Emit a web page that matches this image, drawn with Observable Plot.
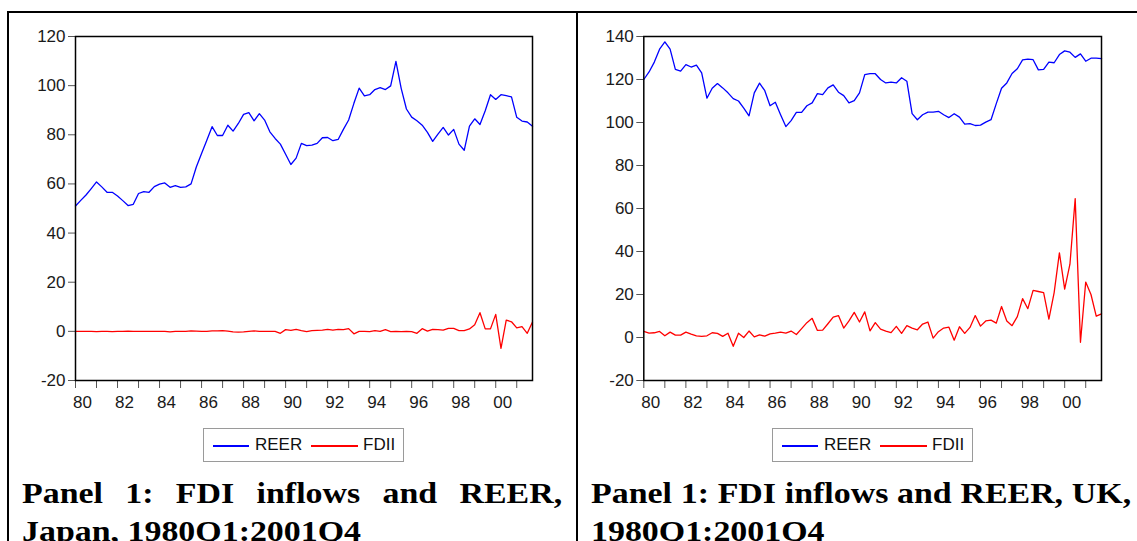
<!DOCTYPE html>
<html><head><meta charset="utf-8">
<script src="https://cdn.jsdelivr.net/npm/d3@7"></script>
<script src="https://cdn.jsdelivr.net/npm/@observablehq/plot@0.6"></script>
<style>
body{margin:0;background:#fff;width:1137px;height:541px;overflow:hidden;position:relative;font-family:"Liberation Sans",Arial,sans-serif;}
.chart{position:absolute;top:0;}
.rule{position:absolute;background:#000;z-index:5;}
.legend{position:absolute;top:428px;width:199px;height:32px;border:1px solid #9a9a9a;background:#fff;font-size:17px;color:#111;}
.legend .ln{position:absolute;top:16px;height:1.5px;}
.legend .tx{position:absolute;top:6px;line-height:20px;}
.caption{position:absolute;top:474px;width:478px;font-family:"Liberation Serif","Times New Roman",serif;font-weight:bold;font-size:30px;line-height:38px;text-align:justify;transform:scaleX(1.13);transform-origin:0 0;color:#000;}
</style></head><body>
<div id="left" class="chart" style="left:0px"></div>
<div id="right" class="chart" style="left:570px"></div>
<div class="rule" style="left:7px;top:11px;width:1130px;height:2px"></div>
<div class="rule" style="left:7px;top:11px;width:2px;height:530px"></div>
<div class="rule" style="left:576px;top:11px;width:2px;height:530px"></div>
<div id="legL" class="legend" style="left:203px"></div>
<div id="legR" class="legend" style="left:772px"></div>
<div class="caption" style="left:22px">Panel 1: FDI inflows and REER, Japan, 1980Q1:2001Q4</div>
<div class="caption" style="left:591px">Panel 1: FDI inflows and REER, UK, 1980Q1:2001Q4</div>
<script>
// Quarterly data 1980Q1 .. 2001Q4 (88 quarters)
const startYear = 1980;
const nQuarters = 88;
const seriesNames = ["REER", "FDII"];
const seriesColors = ["#0000ff", "#ff0000"];
const xTickYears = [1980,1981,1982,1983,1984,1985,1986,1987,1988,1989,1990,1991,1992,1993,1994,1995,1996,1997,1998,1999,2000,2001];
const xLabelYears = [1980,1982,1984,1986,1988,1990,1992,1994,1996,1998,2000];
const yTicksJapan = [-20,0,20,40,60,80,100,120];
const yTicksUK = [-20,0,20,40,60,80,100,120,140];

const japanREER = [51.0,53.3,55.5,58.1,60.8,58.8,56.6,56.6,55.1,53.2,
  51.2,51.7,56.1,56.9,56.6,58.9,59.9,60.4,58.6,59.3,
  58.6,58.8,60.0,66.9,72.4,77.8,83.3,79.7,79.7,83.9,
  81.5,84.6,88.3,89.0,85.7,88.6,86.0,81.2,78.5,76.2,
  72.1,67.9,70.5,76.5,75.6,75.8,76.5,78.8,78.9,77.6,
  78.1,82.2,86.0,92.8,99.0,95.8,96.3,98.4,99.2,98.4,
  99.9,109.9,98.9,90.5,87.2,85.7,83.9,81.0,77.3,80.3,
  83.0,79.9,82.2,76.2,73.7,83.5,86.5,84.2,89.8,96.3,
  94.4,96.3,95.9,95.4,87.1,85.6,85.2,83.5];
const japanFDII = [0,0,0,0,-0.1,0,0,-0.1,0,0,
  0.1,0,0,0,0,0,0,0,-0.2,0,
  0,0,0.2,0.1,0,0,0.2,0.2,0.3,0.1,
  -0.2,-0.3,-0.2,0,0.2,0,0,0,0,-0.8,
  0.7,0.4,0.8,0.3,-0.1,0.3,0.4,0.5,0.8,0.5,
  0.8,0.7,1.1,-1.0,0,0,-0.1,0.3,0,0.7,
  -0.1,0,-0.1,0,-0.1,-0.8,1.1,0.1,0.8,0.7,
  0.5,1.2,1.2,0.3,0.3,1.0,2.7,7.6,1.0,1.0,
  6.9,-6.9,4.6,3.9,1.4,1.9,-0.8,3.8];
const ukREER = [120,123.5,128.1,134.1,137.5,134.1,124.7,123.9,126.9,125.8,
  126.7,123.1,111.3,115.9,118.1,116.1,113.8,111.1,110,106.7,
  103.1,113.8,118.3,114.8,107.8,109.4,103.6,98.1,100.9,104.7,
  104.7,107.8,109.1,113.4,113.0,116.1,117.5,114.1,112.5,109.1,
  110.2,113.8,122.3,122.7,122.7,120,118.4,118.8,118.4,120.8,
  119.2,104.1,101.3,103.6,104.8,104.8,105.2,103.6,102.3,104.1,
  102.5,99.2,99.5,98.6,98.8,100.2,101.3,108.8,115.9,118.4,
  122.8,125,129.1,129.5,129.2,124.5,124.7,128.1,127.8,131.6,
  133.3,132.7,130.3,131.9,128.5,129.9,129.9,129.7];
const ukFDII = [2.8,2.0,2.2,2.8,0.8,2.5,1.1,1.1,2.5,1.6,
  0.8,0.5,0.8,2.2,1.9,0.5,2.0,-4.1,2.0,0,
  3.0,0.3,1.25,0.6,1.7,2.0,2.5,2.0,3.0,1.4,
  4.1,6.9,8.9,3.3,3.4,6.4,9.5,10.2,4.4,7.7,
  11.7,7.2,11.9,3.1,6.9,3.9,3.0,2.3,5.2,1.9,
  5.5,4.4,3.6,6.25,7.2,-0.3,2.7,4.4,4.8,-1.25,
  5.0,1.9,4.7,10.2,5.3,7.7,8.1,6.7,14.4,7.7,
  5.5,9.7,18.1,13.4,21.9,21.4,20.9,8.6,20.9,39.4,
  22.5,34.1,64.6,-2.2,25.8,20.0,9.9,11.0];

const quarterTime = d3.range(nQuarters).map(k => startYear + k / 4);

function panel(reer, fdii, yDomain, yTicks, width, mL, mR) {
  return Plot.plot({
    width, height: 420,
    marginLeft: mL, marginRight: mR, marginTop: 36, marginBottom: 40,
    x: {domain: [1980, 2001.75]},
    y: {domain: yDomain},
    style: {background: "transparent", fontFamily: '"Liberation Sans", Arial, sans-serif', fontSize: "17px", color: "#111", overflow: "visible"},
    marks: [
      Plot.axisY({ticks: yTicks, tickSize: 7, tickPadding: 3, stroke: "#555", fill: "#1a1a1a", label: null, tickFormat: d => String(d)}),
      Plot.axisX({ticks: xTickYears, tickSize: 8, stroke: "#555", tickFormat: () => "", label: null}),
      Plot.axisX({ticks: xLabelYears, tickSize: 0, tickPadding: 15, dx: 7, fill: "#1a1a1a", tickFormat: d => String(d).slice(2), label: null}),
      Plot.lineY(reer, {x: (d, i) => quarterTime[i], y: d => d, stroke: seriesColors[0], strokeWidth: 1.3}),
      Plot.lineY(fdii, {x: (d, i) => quarterTime[i], y: d => d, stroke: seriesColors[1], strokeWidth: 1.3}),
      Plot.frame({stroke: "#000", strokeWidth: 1.5})
    ]
  });
}

document.getElementById("left").append(panel(japanREER, japanFDII, [-20, 120], yTicksJapan, 570, 75, 38));
document.getElementById("right").append(panel(ukREER, ukFDII, [-20, 140], yTicksUK, 567, 73.3, 36));

function legend(el) {
  const pos = [[9, 36, 51], [107, 47, 159]];
  seriesNames.forEach((name, i) => {
    const ln = document.createElement("div");
    ln.className = "ln";
    ln.style.left = pos[i][0] + "px";
    ln.style.width = pos[i][1] + "px";
    ln.style.background = seriesColors[i];
    const tx = document.createElement("div");
    tx.className = "tx";
    tx.style.left = pos[i][2] + "px";
    tx.textContent = name;
    el.append(ln, tx);
  });
}
legend(document.getElementById("legL"));
legend(document.getElementById("legR"));
</script>
</body></html>
